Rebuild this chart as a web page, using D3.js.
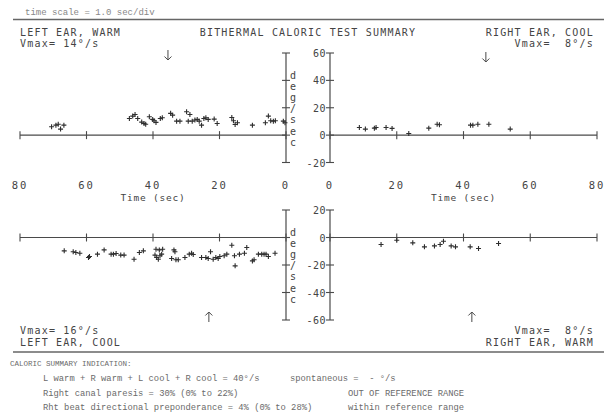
<!DOCTYPE html>
<html>
<head>
<meta charset="utf-8">
<script src="https://cdn.jsdelivr.net/npm/d3@7"></script>
<style>
  html, body { margin: 0; padding: 0; background: #ffffff; }
  svg { display: block; }
  .plot { font-family: "DejaVu Sans Mono", monospace; fill: #444; }
  .summ { font-family: "Liberation Mono", "DejaVu Sans Mono", monospace; fill: #6a6a6a; }
</style>
</head>
<body>
<svg id="chart" width="612" height="414"></svg>
<script>
// ---------- DATA ----------
const xTicks = [0, 20, 40, 60, 80];
const topYTicks = [60, 40, 20, 0, -20];
const botYTicks = [20, 0, -20, -40, -60];
const degLetters = ["d", "e", "g", "/", "s", "e", "c"];

// Left ear, warm (top-left)
const lwTime = [70.5, 69.2, 68.5, 67.8, 66.8, 47.1, 46.1, 45.4, 44.6, 43.4, 42.7, 42.2, 41.1, 40.1, 39.7, 39.1, 37.8, 37.2,
  34.7, 34.1, 32.9, 31.9, 29.9, 28.9, 29.4, 28.2, 27.4, 26.7, 26.1, 25.4, 24.7, 24.1, 23.4, 21.6, 20.7,
  16.3, 15.8, 15.3, 14.6, 10.1, 6.2, 5.3, 4.6, 3.8, 3.2, 0.8, 0.3];
const lwVel = [6.1, 7.3, 8.0, 4.4, 7.3, 12.2, 13.9, 15.1, 12.2, 9.5, 8.5, 8.0, 13.4, 11.5, 10.5, 9.3, 12.2, 12.7,
  15.9, 14.6, 10.2, 10.2, 17.1, 15.1, 10.2, 10.2, 11.0, 11.5, 10.2, 7.3, 12.2, 12.7, 11.5, 11.7, 8.5,
  12.9, 10.5, 7.8, 9.0, 7.3, 9.0, 13.9, 10.5, 10.2, 10.5, 10.2, 9.0];

// Right ear, cool (top-right)
const rcTime = [8.8, 10.6, 13.3, 13.8, 16.8, 18.6, 23.6, 29.6, 32.1, 32.8, 42.1, 42.8, 44.3, 47.6, 54.0];
const rcVel = [5.6, 4.4, 5.1, 5.6, 5.6, 4.9, 1.2, 5.1, 8.0, 7.6, 7.3, 7.3, 8.0, 8.0, 4.4];

// Left ear, cool (bottom-left)
const lcTime = [66.7, 64.0, 63.2, 62.0, 59.4, 59.1, 56.7, 54.7, 52.6, 51.9, 51.1, 49.7, 48.7, 45.7, 44.1, 42.9,
  39.1, 38.1, 37.1, 38.9, 38.4, 37.9, 37.4, 39.4, 33.7, 33.4, 34.4, 33.1, 32.4, 30.4, 29.1, 28.4, 27.9,
  25.4, 24.1, 23.4, 22.7, 21.9, 21.1, 20.4, 19.9, 18.6, 17.8, 16.3, 15.5, 15.3, 14.0, 12.5, 11.8,
  10.1, 9.6, 8.3, 7.3, 6.6, 6.0, 5.3, 3.3];
const lcVel = [-9.7, -10.4, -10.9, -11.4, -14.5, -13.8, -12.1, -9.0, -12.1, -12.1, -11.6, -12.8, -12.8, -15.8, -10.9, -9.7,
  -8.5, -9.0, -8.5, -14.5, -15.8, -13.3, -12.1, -12.8, -9.0, -10.4, -15.3, -16.2, -16.2, -14.5, -12.1, -11.4, -12.4,
  -14.5, -14.5, -15.3, -10.4, -15.8, -14.5, -15.3, -13.8, -13.3, -12.1, -5.6, -13.3, -20.6, -12.1, -11.4, -7.3,
  -17.0, -16.2, -12.1, -12.1, -12.1, -12.1, -13.8, -11.4];

// Right ear, warm (bottom-right)
const rwTime = [15.3, 20.0, 24.8, 28.3, 31.3, 33.0, 34.0, 36.3, 37.6, 42.0, 44.5, 50.5];
const rwVel = [-5.1, -2.0, -3.9, -6.8, -6.1, -5.1, -2.7, -6.1, -6.8, -6.8, -8.0, -4.4];

// Arrow markers (time, sec)
const arrowTimes = { lw: 35.5, rc: 46.7, lc: 23.2, rw: 42.5 };

// ---------- DRAW ----------
const svg = d3.select("#chart");
const ink = "#4a4a4a";

const xLeft = d3.scaleLinear().domain([0, 80]).range([286, 20]);
const xRight = d3.scaleLinear().domain([0, 80]).range([330, 597]);
const yTop = d3.scaleLinear().domain([-20, 60]).range([162.5, 53]);
const yBot = d3.scaleLinear().domain([-60, 20]).range([320, 210]);

function hAxis(x, y, showLabels) {
  const g = svg.append("g");
  g.append("line").attr("x1", x(80)).attr("x2", x(0)).attr("y1", y(0)).attr("y2", y(0))
    .attr("stroke", ink).attr("stroke-width", 1.2);
  g.selectAll("line.t").data(xTicks).join("line").attr("class", "t")
    .attr("x1", d => x(d)).attr("x2", d => x(d))
    .attr("y1", y(0) - 4).attr("y2", y(0) + 4)
    .attr("stroke", ink).attr("stroke-width", 1.1);
  if (showLabels) {
    g.selectAll("text.tl").data(xTicks).join("text").attr("class", "plot tl")
      .attr("x", d => x(d)).attr("y", 189).attr("text-anchor", "middle")
      .attr("font-size", 10.5).attr("letter-spacing", 2)
      .text(d => d);
    g.append("text").attr("class", "plot").attr("x", x(40)).attr("y", 201)
      .attr("text-anchor", "middle").attr("font-size", 9.5).attr("letter-spacing", 0.8)
      .text("Time (sec)");
  }
}

function vAxis(xPos, y, ticks, labels, letters) {
  const g = svg.append("g");
  const dom = y.domain();
  g.append("line").attr("x1", xPos).attr("x2", xPos).attr("y1", y(dom[0])).attr("y2", y(dom[1]))
    .attr("stroke", ink).attr("stroke-width", 1.2);
  g.selectAll("line.t").data(ticks).join("line").attr("class", "t")
    .attr("x1", xPos - 4).attr("x2", xPos + 4)
    .attr("y1", d => y(d)).attr("y2", d => y(d))
    .attr("stroke", ink).attr("stroke-width", 1.1);
  if (labels) {
    g.selectAll("text.tl").data(ticks).join("text").attr("class", "plot tl")
      .attr("x", xPos - 4).attr("y", d => y(d) + 4).attr("text-anchor", "end")
      .attr("font-size", 10).attr("letter-spacing", 0.5).text(d => d);
  }
  if (letters) {
    g.selectAll("text.dl").data(degLetters).join("text").attr("class", "plot dl")
      .attr("x", xPos + 7).attr("y", (d, i) => letters + i * 11.2 + 3.5)
      .attr("text-anchor", "middle").attr("font-size", 10).text(d => d);
  }
}

function points(x, y, times, vels) {
  const pts = times.map((t, i) => ({ t, v: vels[i] }));
  svg.append("g").selectAll("path").data(pts).join("path")
    .attr("d", d => `M${x(d.t) - 2.5},${y(d.v)}H${x(d.t) + 2.5}M${x(d.t)},${y(d.v) - 2.5}V${y(d.v) + 2.5}`)
    .attr("stroke", "#2e2e2e").attr("stroke-width", 1.1).attr("fill", "none");
}

// arrows drawn as paths: dir = 1 points down, -1 points up
function arrow(x, t, yc, dir) {
  const px = x(t);
  const tip = yc + dir * 5;
  svg.append("path")
    .attr("d", `M${px},${yc - dir * 5}V${tip}M${px - 3.5},${tip - dir * 3.5}L${px},${tip}L${px + 3.5},${tip - dir * 3.5}`)
    .attr("stroke", ink).attr("stroke-width", 1).attr("fill", "none");
}

// top panels
hAxis(xLeft, yTop, true);
hAxis(xRight, yTop, true);
vAxis(286, yTop, topYTicks, false, 75);
vAxis(330, yTop, topYTicks, true, null);
// bottom panels
hAxis(xLeft, yBot, false);
hAxis(xRight, yBot, false);
vAxis(286, yBot, botYTicks, false, 232);
vAxis(330, yBot, botYTicks, true, null);

points(xLeft, yTop, lwTime, lwVel);
points(xRight, yTop, rcTime, rcVel);
points(xLeft, yBot, lcTime, lcVel);
points(xRight, yBot, rwTime, rwVel);

arrow(xLeft, arrowTimes.lw, 55, 1);
arrow(xRight, arrowTimes.rc, 57, 1);
arrow(xLeft, arrowTimes.lc, 317, -1);
arrow(xRight, arrowTimes.rw, 317, -1);

// header
svg.append("text").attr("class", "summ").attr("x", 25).attr("y", 15).attr("font-size", 9)
  .style("fill", "#888").text("time scale = 1.0 sec/div");
svg.append("line").attr("x1", 13).attr("x2", 604).attr("y1", 19.5).attr("y2", 19.5)
  .attr("stroke", "#666").attr("stroke-width", 1.3);

const hdr = [
  { x: 20, y: 35.5, a: "start", t: "LEFT EAR, WARM" },
  { x: 20, y: 46.5, a: "start", t: "Vmax= 14\u00b0/s" },
  { x: 308, y: 35.5, a: "middle", t: "BITHERMAL CALORIC TEST SUMMARY" },
  { x: 594, y: 35.5, a: "end", t: "RIGHT EAR, COOL" },
  { x: 594, y: 46.5, a: "end", t: "Vmax=  8\u00b0/s" },
  { x: 20, y: 334, a: "start", t: "Vmax= 16\u00b0/s" },
  { x: 20, y: 346, a: "start", t: "LEFT EAR, COOL" },
  { x: 594, y: 334, a: "end", t: "Vmax=  8\u00b0/s" },
  { x: 594, y: 346, a: "end", t: "RIGHT EAR, WARM" }
];
svg.append("g").selectAll("text").data(hdr).join("text").attr("class", "plot")
  .attr("x", d => d.x).attr("y", d => d.y).attr("text-anchor", d => d.a)
  .attr("font-size", 10).attr("letter-spacing", 1.2).style("white-space", "pre")
  .text(d => d.t);

svg.append("line").attr("x1", 13).attr("x2", 604).attr("y1", 352).attr("y2", 352)
  .attr("stroke", "#666").attr("stroke-width", 1.3);

// summary
const summ = [
  { x: 10, y: 366, s: 7.5, t: "CALORIC SUMMARY INDICATION:" },
  { x: 43, y: 381, s: 8.8, t: "L warm + R warm + L cool + R cool = 40\u00b0/s" },
  { x: 290, y: 381, s: 8.8, t: "spontaneous =  - \u00b0/s" },
  { x: 43, y: 396, s: 8.8, t: "Right canal paresis = 30% (0% to 22%)" },
  { x: 348, y: 396, s: 8.8, t: "OUT OF REFERENCE RANGE" },
  { x: 43, y: 410, s: 8.8, t: "Rht beat directional preponderance = 4% (0% to 28%)" },
  { x: 348, y: 410, s: 8.8, t: "within reference range" }
];
svg.append("g").selectAll("text").data(summ).join("text").attr("class", "summ")
  .attr("x", d => d.x).attr("y", d => d.y).attr("font-size", d => d.s)
  .style("white-space", "pre").text(d => d.t);
</script>
</body>
</html>
